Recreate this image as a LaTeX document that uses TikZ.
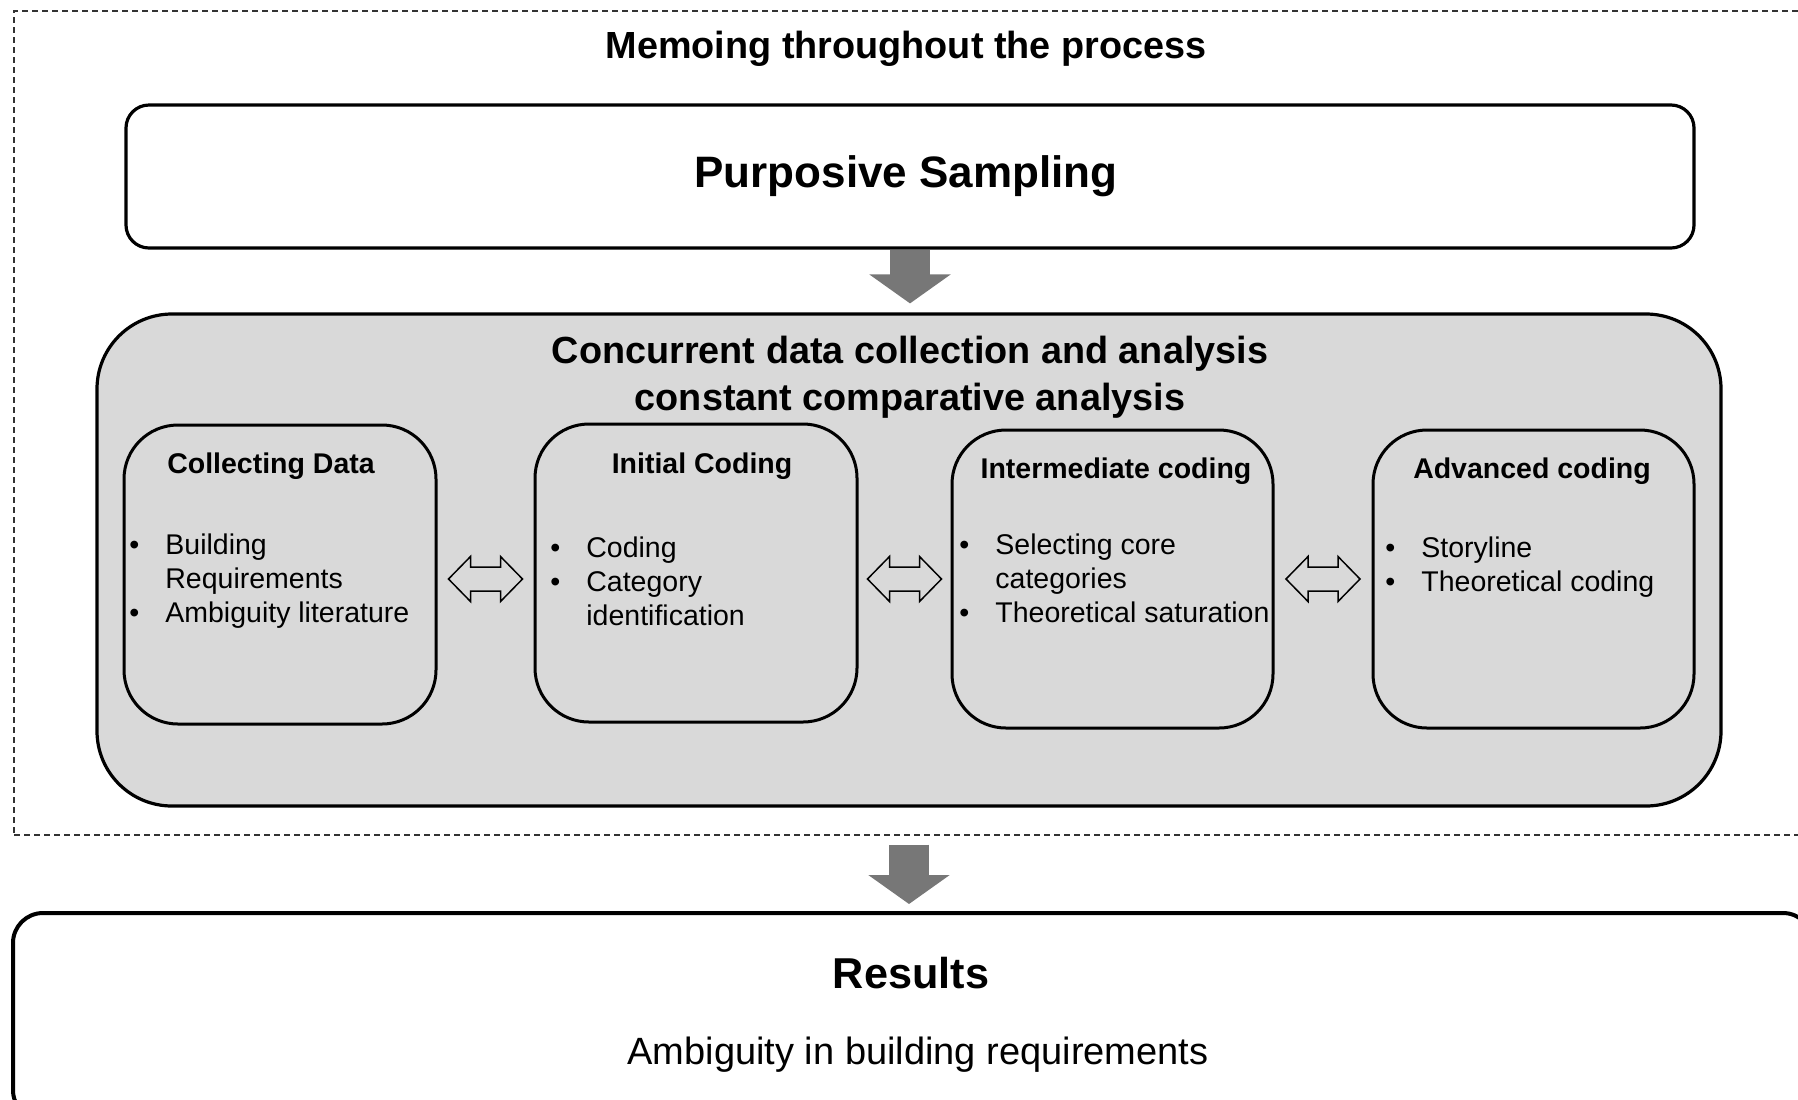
\documentclass[tikz,border=0pt]{standalone}
\usepackage{fontspec}
\setmainfont{Liberation Sans}
\usetikzlibrary{arrows.meta,calc,positioning}
\definecolor{boxgray}{HTML}{D9D9D9}
\definecolor{arrowgray}{HTML}{777777}
\newcommand{\steplist}[1]{\fontsize{14.25}{17}\selectfont
  \begin{tabular}[t]{@{}p{18pt}@{}l@{}}#1\end{tabular}}

\begin{document}
\begin{tikzpicture}[x=1pt,y=-1pt,
  stagebox/.style={draw,line width=1.5pt,rounded corners=27pt,fill=boxgray,
    minimum width=160.5pt,minimum height=149pt,inner sep=0pt},
  stagetitle/.style={anchor=base,inner sep=0pt,font=\fontsize{14.25}{17}\selectfont\bfseries},
  stagelist/.style={anchor=base west,inner sep=0pt},
  blockarrow/.style={arrowgray,line width=20pt,-{Triangle[width=40pt,length=14.5pt]}},
  dblarrow/.pic={\draw[line width=0.75pt] (-18.5,0) -- (-7.5,-11.25) -- (-7.5,-6)
    -- (7.5,-6) -- (7.5,-11.25) -- (18.5,0) -- (7.5,11.25) -- (7.5,6)
    -- (-7.5,6) -- (-7.5,11.25) -- cycle;}]
  \useasboundingbox (0,0) rectangle (899,549.5);
  \clip (0,0) rectangle (899,549.5);
  % memoing frame round the whole process
  \node[draw=black!80,line width=0.75pt,dash pattern=on 3pt off 2pt,
        minimum width=900pt,minimum height=412pt] (memo) at (457,211.5) {};
  \node[anchor=base,inner sep=0pt,font=\fontsize{18.9}{22}\selectfont\bfseries]
       (memotitle) at (453,29) {Memoing throughout the process};
  % sampling
  \node[draw,fill=white,line width=1.6pt,rounded corners=11.5pt,minimum width=784pt,
        minimum height=71.5pt,font=\fontsize{22}{26}\selectfont\bfseries]
       (ps) at (455,88.25) {Purposive Sampling\hspace*{4pt}};
  % concurrent collection and analysis
  \node[draw,fill=boxgray,line width=1.6pt,rounded corners=37.5pt,minimum width=812pt,
        minimum height=246pt] (conc) at (454.5,280) {};
  \node[anchor=base,inner sep=0pt,font=\fontsize{18.9}{23.5}\selectfont\bfseries]
       (conctitle) at (455,181.5)
       {\begin{tabular}[t]{@{}c@{}}Concurrent data collection and analysis\\
        constant comparative analysis\end{tabular}};
  \node[stagebox,minimum width=156pt,minimum height=149.5pt] (cd) at (140,287.25) {};
  \node[stagebox,minimum width=161pt] (ic) at (348,286.5) {};
  \node[stagebox] (im) at (556.25,289.5) {};
  \node[stagebox] (ac) at (766.75,289.5) {};
  \node[stagetitle] (cdtitle) at (135.5,236.5) {Collecting Data};
  \node[stagetitle] (ictitle) at (351,236.5) {Initial Coding};
  \node[stagetitle] (imtitle) at (558,239) {Intermediate coding};
  \node[stagetitle] (actitle) at (766,239) {Advanced coding};
  \node[stagelist] (cdlist) at (64.5,277)
       {\steplist{\textbullet & Building\\ & Requirements\\ \textbullet & Ambiguity literature}};
  \node[stagelist] (iclist) at (275,278.5)
       {\steplist{\textbullet & Coding\\ \textbullet & Category\\ & identification}};
  \node[stagelist] (imlist) at (479.5,277)
       {\steplist{\textbullet & Selecting core\\ & categories\\ \textbullet & Theoretical saturation}};
  \node[stagelist] (aclist) at (692.5,278.5)
       {\steplist{\textbullet & Storyline\\ \textbullet & Theoretical coding}};
  \foreach \l/\r in {cd/ic,ic/im,im/ac}{
    \coordinate (mid) at ($(\l.east)!.5!(\r.west)$);
    \pic at (mid |- im.center) {dblarrow};
  }
  % results
  \node[draw,fill=white,line width=2pt,rounded corners=15pt,minimum width=900pt,
        minimum height=103.5pt] (res) at (456.5,508.25) {};
  \node[anchor=base,inner sep=0pt,font=\fontsize{21.6}{25}\selectfont\bfseries]
       (restitle) at (455.5,494) {Results};
  \node[anchor=base,inner sep=0pt,font=\fontsize{19}{22}\selectfont]
       (resbody) at (459,532) {Ambiguity in building requirements};
  % flow arrows
  \draw[blockarrow,shorten >=4.5pt] (ps.south) -- (ps.south |- conc.north);
  \draw[blockarrow,shorten <=18.5pt,shorten >=3.5pt] (conc.south) -- (conc.south |- res.north);
\end{tikzpicture}
\end{document}
